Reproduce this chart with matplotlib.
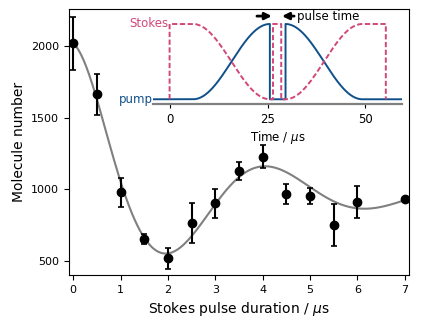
import numpy as np
import matplotlib
matplotlib.use('Agg')
import matplotlib.pyplot as plt

# measured molecule number vs Stokes pulse duration
duration = [0, 0.5, 1, 1.5, 2, 2.5, 3, 3.5, 4, 4.5, 5, 5.5, 6, 7]
molecules = [2020, 1663, 977, 652, 515, 761, 900, 1126, 1226, 968, 952, 747, 910, 931]
mol_err = [185, 145, 100, 35, 75, 140, 100, 65, 80, 70, 55, 148, 112, 10]

# damped oscillation fit: C + A exp(-t/tau) cos(w t) + B exp(-(t/s)^2)
fit_C, fit_A, fit_tau, fit_w = 960., 825., 2.91, 1.496
fit_B, fit_s = 235., 0.8

# pulse sequence timings (us)
stokes_on, ramp_start, ramp_end = 0., 6., 25.6
gap_start, gap_end = 25.7, 29.6
probe_start, probe_end = 26.4, 28.5
ramp2_end, stokes_off, t_end = 49.2, 55.2, 59.4
t_begin = -4.2

stokes_col = '#d2477a'
pump_col = '#10508a'

fig = plt.figure(figsize=(4.23, 3.23), dpi=100)
ax = fig.add_axes([0.163, 0.149, 0.804, 0.823])

tt = np.linspace(0, 7, 400)
fit = fit_C + fit_A*np.exp(-tt/fit_tau)*np.cos(fit_w*tt) + fit_B*np.exp(-(tt/fit_s)**2)
ax.plot(tt, fit, color='gray', lw=1.5, zorder=1)
ax.errorbar(duration, molecules, yerr=mol_err, fmt='o', color='k', ms=6,
            elinewidth=1.5, capsize=2.5, capthick=1.2, zorder=2)

ax.set_xlim(-0.09, 7.09)
ax.set_ylim(400, 2260)
ax.set_xticks(range(8))
ax.set_yticks([500, 1000, 1500, 2000])
ax.tick_params(labelsize=8)
ax.set_xlabel(r'Stokes pulse duration / $\mu$s', fontsize=10)
ax.set_ylabel('Molecule number', fontsize=10)

# inset: pulse sequence
ins = fig.add_axes([0.362, 0.678, 0.589, 0.285])
n = 100
up = lambda a, b: (np.linspace(a, b, n), np.sin(0.5*np.pi*np.linspace(0, 1, n))**2)
down = lambda a, b: (np.linspace(a, b, n), np.cos(0.5*np.pi*np.linspace(0, 1, n))**2)

r1x, r1y = up(ramp_start, ramp_end)
r2x, r2y = down(gap_end, ramp2_end)
pump_t = np.concatenate([[t_begin, ramp_start], r1x, [ramp_end, gap_end], r2x, [ramp2_end, t_end]])
pump_v = np.concatenate([[0, 0], r1y, [0, 0], r2y, [0, 0]])

s1x, s1y = down(ramp_start, ramp_end)
s2x, s2y = up(gap_end, ramp2_end)
stokes_t = np.concatenate([[stokes_on, stokes_on, ramp_start], s1x,
                           [probe_start, probe_start, probe_end, probe_end, gap_end], s2x,
                           [stokes_off, stokes_off]])
stokes_v = np.concatenate([[0, 1, 1], s1y, [0, 1, 1, 0, 0], s2y, [1, 0]])

ins.plot(pump_t, pump_v, color=pump_col, lw=1.4)
ins.plot(stokes_t, stokes_v, color=stokes_col, lw=1.4, ls=(0, (2.7, 1.3)))

ins.set_xlim(t_begin, t_end)
ins.set_ylim(-0.063, 1.16)
for s in ['top', 'right', 'left']:
    ins.spines[s].set_visible(False)
ins.spines['bottom'].set_color('gray')
ins.spines['bottom'].set_linewidth(1.6)
ins.set_xticks([0, 25, 50])
ins.set_yticks([])
ins.tick_params(labelsize=8.5, length=3)
ins.set_xlabel(r'Time / $\mu$s', fontsize=8.5, labelpad=2)
ins.patch.set_alpha(0)

ins.text(stokes_on - 0.2, 1, 'Stokes', color=stokes_col, fontsize=8.5, ha='right', va='center')
ins.text(t_begin, 0, 'pump', color=pump_col, fontsize=8.5, ha='right', va='center')

ins.annotate('', xy=(26.1, 1.105), xytext=(22.3, 1.105),
             arrowprops=dict(arrowstyle='-|>', color='k', lw=2, mutation_scale=10,
                             shrinkA=0, shrinkB=0))
ins.annotate('pulse time', xy=(28.7, 1.105), xytext=(32.5, 1.105), fontsize=8.5,
             va='center', ha='left',
             arrowprops=dict(arrowstyle='-|>', color='k', lw=2, mutation_scale=10,
                             shrinkA=0, shrinkB=0))

fig.savefig('out.png', dpi=100)
